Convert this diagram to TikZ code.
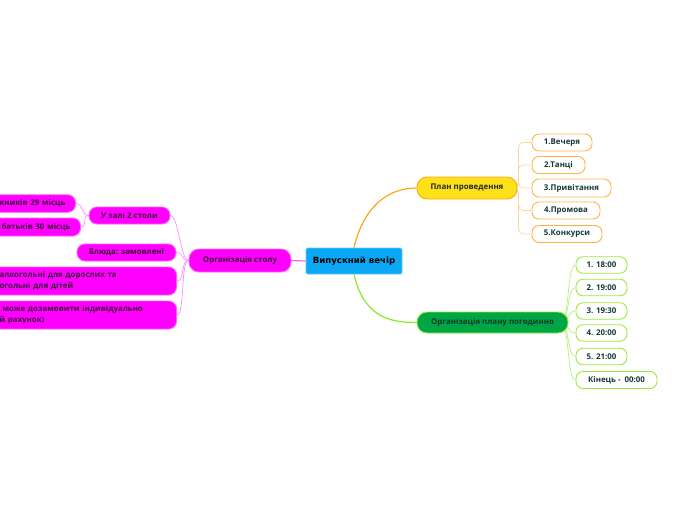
\documentclass[tikz,border=0pt]{standalone}
\usepackage{fontspec}
\setmainfont{Open Sans}
\newfontfamily\dejab{DejaVu Sans}
\pgfdeclarelayer{bg}
\pgfsetlayers{bg,main}
\definecolor{cfill}{HTML}{0AA8F5}
\definecolor{cdraw}{HTML}{5BC8F5}
\definecolor{yfill}{HTML}{FFE11A}
\definecolor{ydraw}{HTML}{FFA71A}
\definecolor{ochild}{HTML}{FFB347}
\definecolor{oline}{HTML}{FFD49A}
\definecolor{omain}{HTML}{FFA31A}
\definecolor{gfill}{HTML}{00A545}
\definecolor{gdraw}{HTML}{8CF03C}
\definecolor{gchild}{HTML}{9BEA3C}
\definecolor{gline}{HTML}{B8F07A}
\definecolor{gmain}{HTML}{8BE82A}
\definecolor{mfill}{HTML}{FF00FF}
\definecolor{mdraw}{HTML}{FF5CFF}
\definecolor{mline}{HTML}{FF8AFF}
\definecolor{mmain}{HTML}{FF55FF}
\definecolor{mtext}{HTML}{3D0A3D}
\definecolor{ctext}{HTML}{153838}
\definecolor{gtext}{HTML}{0B3B24}
\tikzset{
  base/.style={inner sep=0pt, line width=0.9pt, font=\fontsize{7.9}{10.5}\selectfont\bfseries},
  rootbox/.style={base, fill=cfill, draw=cdraw, rounded corners=1.5pt, text=black,
    font=\dejab\fontsize{8.6}{10}\selectfont\bfseries},
  ymain/.style={base, fill=yfill, draw=ydraw, rounded corners=10pt, text=black!85},
  ychild/.style={base, fill=white, draw=ochild, rounded corners=7pt, text=ctext},
  gmainbox/.style={base, fill=gfill, draw=gdraw, rounded corners=10pt, text=gtext},
  gchildbox/.style={base, fill=white, draw=gchild, rounded corners=7pt, text=ctext},
  mmainbox/.style={base, fill=mfill, draw=mdraw, rounded corners=10pt, text=mtext},
  mchild/.style={base, fill=mfill, draw=mdraw, rounded corners=8pt, text=mtext},
  mcut/.style={mchild, anchor=east, align=left, inner xsep=14pt, inner ysep=0pt},
  oedge/.style={draw=oline, line width=0.7pt, rounded corners=5pt},
  gedge/.style={draw=gline, line width=0.7pt},
  medge/.style={draw=mline, line width=0.7pt},
}
\begin{document}
\begin{tikzpicture}[x=1pt, y=-1pt]
\useasboundingbox (0,0) rectangle (696,520);
\clip (0,0) rectangle (696,520);
% root
\node[rootbox, minimum width=96pt, minimum height=26pt] (root) at (354,261) {Випускний вечір};
% plan
\node[ymain, minimum width=100pt, minimum height=22pt] (plan) at (467,188) {План проведення};
\node[ychild, minimum width=60pt, minimum height=17pt] (p1) at (562,142.5) {1.Вечеря};
\node[ychild, minimum width=53pt, minimum height=17pt] (p2) at (558.5,165) {2.Танці};
\node[ychild, minimum width=79pt, minimum height=18pt] (p3) at (571.5,188) {3.Привітання};
\node[ychild, minimum width=68pt, minimum height=17pt] (p4) at (566,210.5) {4.Промова};
\node[ychild, minimum width=70pt, minimum height=17pt] (p5) at (567,234) {5.Конкурси};
% green
\node[gmainbox, minimum width=151pt, minimum height=21pt] (org) at (492.5,322.5) {Організація плану погодинно};
\node[gchildbox, minimum width=51pt, minimum height=16.5pt] (g1) at (601.5,265) {1. 18:00};
\node[gchildbox, minimum width=51pt, minimum height=16.5pt] (g2) at (601.5,287.5) {2. 19:00};
\node[gchildbox, minimum width=51pt, minimum height=16.5pt] (g3) at (601.5,311) {3. 19:30};
\node[gchildbox, minimum width=51pt, minimum height=16.5pt] (g4) at (601.5,333) {4. 20:00};
\node[gchildbox, minimum width=51pt, minimum height=16.5pt] (g5) at (601.5,356.5) {5. 21:00};
\node[gchildbox, minimum width=81pt, minimum height=17pt] (g6) at (616.5,380) {Кінець -\ \ 00:00};
\coordinate (gs) at (560,322.5);
% magenta
\node[mmainbox, minimum width=102pt, minimum height=23pt] (stol) at (240,260.5) {Організація столу};
\node[mchild, minimum width=81pt, minimum height=17pt] (zal) at (129.5,215.5) {У залі 2 столи};
\node[mchild, minimum width=99pt, minimum height=17pt] (blu) at (126.5,252.5) {Блюда: замовлені};
\node[mcut, text width=163pt, minimum height=28pt] (nap) at (177,281)
  {алкогольні для дорослих та\\огольні для дітей};
\node[mcut, text width=163pt, minimum height=28pt] (koz) at (177,315)
  {\hspace*{3pt}може дозамовити індивідуально\\й рахунок)};
\node[mcut, text width=62pt, minimum height=17.5pt] (vyp) at (76,203.5) {\mbox{кників 29 місць}};
\node[mcut, text width=67pt, minimum height=18pt] (bat) at (81,227) {\mbox{\hspace*{2pt}батьків 30 місць}};
\begin{pgfonlayer}{bg}
  \draw[draw=omain, line width=1.2pt] (root.north) .. controls +(10,-42) and +(-28,0) .. (plan.west);
  \draw[draw=gmain, line width=1.2pt] (root.south) .. controls +(10,42) and +(-28,0) .. (org.west);
  \draw[draw=mmain, line width=1.2pt] (root.west) -- (stol.east);
  \foreach \c in {p1,p2,p3,p4,p5}
    \draw[oedge] (plan.east) -- ++(1,0) |- (\c.west);
  \foreach \c in {g1,g2,g3,g4,g5,g6}
    \draw[gedge] (gs) .. controls +(10,0) and +(-9,0) .. (\c.west);
  \foreach \c in {zal,blu,nap,koz}
    \draw[medge] (stol.west) .. controls +(-8,0) and +(8,0) .. (\c.east);
  \foreach \c in {vyp,bat}
    \draw[medge] (zal.west) .. controls +(-7,0) and +(7,0) .. (\c.east);
\end{pgfonlayer}
\end{tikzpicture}
\end{document}
